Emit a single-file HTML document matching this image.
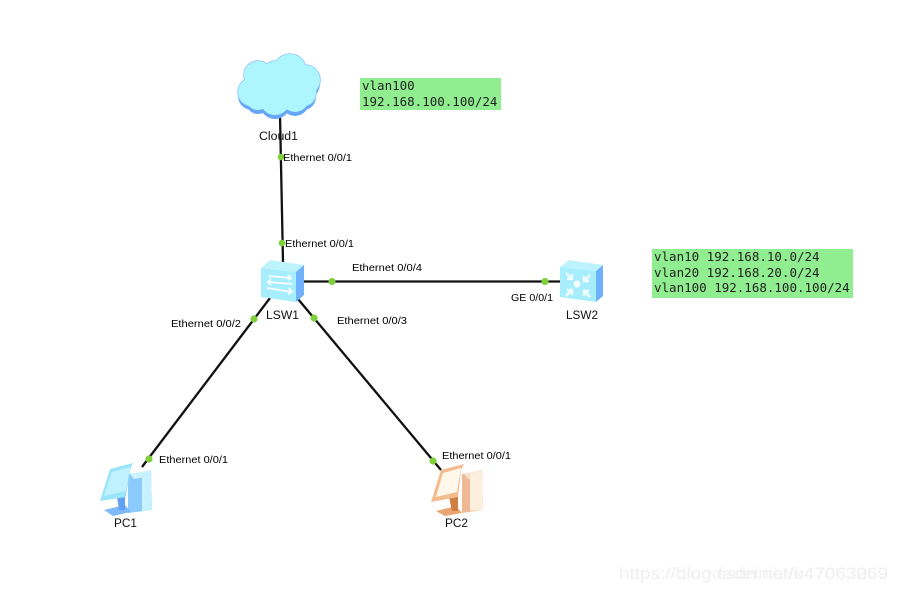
<!DOCTYPE html>
<html><head><meta charset="utf-8"><style>
html,body{margin:0;padding:0;background:#fff}
svg{display:block}
.l{font-family:"Liberation Sans",Arial,sans-serif;font-size:10.5px;fill:#000}
.n{font-family:"Liberation Sans",Arial,sans-serif;font-size:11.5px;fill:#111}
.m{font-family:"DejaVu Sans Mono","Liberation Mono",monospace;font-size:12.5px;fill:#222}
.w{font-family:"Liberation Sans",Arial,sans-serif;font-size:17px;fill:#f0f0f0}
</style></head><body>
<svg width="899" height="591" viewBox="0 0 899 591" xmlns="http://www.w3.org/2000/svg">
<rect width="899" height="591" fill="#fff"/>
<g stroke="#111" stroke-width="2.300" fill="none">
<line x1="280" y1="115" x2="283" y2="262"/>
<line x1="303" y1="281.500" x2="560" y2="281.500"/>
<line x1="270" y1="298" x2="142" y2="467"/>
<line x1="298" y1="299" x2="441" y2="470"/>
</g>
<!-- Cloud -->
<g fill="#66a6f5" transform="translate(0,4)">
<circle cx="252" cy="92" r="14"/><circle cx="258" cy="75" r="14"/><circle cx="275" cy="72" r="11"/><circle cx="290" cy="70" r="16"/><circle cx="305" cy="80" r="15"/><circle cx="303" cy="93" r="13"/><circle cx="275" cy="100" r="15"/><circle cx="295" cy="98" r="14"/><circle cx="258" cy="98" r="12"/><circle cx="280" cy="88" r="22"/>
</g>
<g fill="#90c4fa">
<circle cx="252" cy="92" r="14.800"/><circle cx="258" cy="75" r="14.800"/><circle cx="275" cy="72" r="11.800"/><circle cx="290" cy="70" r="16.800"/><circle cx="305" cy="80" r="15.800"/><circle cx="303" cy="93" r="13.800"/>
</g>
<g fill="#aef6ff">
<circle cx="252" cy="92" r="14"/><circle cx="258" cy="75" r="14"/><circle cx="275" cy="72" r="11"/><circle cx="290" cy="70" r="16"/><circle cx="305" cy="80" r="15"/><circle cx="303" cy="93" r="13"/><circle cx="275" cy="100" r="15"/><circle cx="295" cy="98" r="14"/><circle cx="258" cy="98" r="12"/><circle cx="280" cy="88" r="22"/>
</g>
<!-- LSW1 -->
<g>
<polygon points="261,268 270,260 304,265 296,272" fill="#bdf3fd"/>
<polygon points="296,272 304,265 304,295 296,302" fill="#6fb1fb"/>
<polygon points="261,268 296,272 296,302 261,297" fill="#a6eefb"/>
<g stroke="#f2fcff" stroke-width="2" fill="none">
<path d="M269 276l22 2m-3-3l3 3-3 2"/>
<path d="M292 284l-24-2m3-3l-3 3 3 3"/>
<path d="M267 288l25 4m-3-4l3 4-4 2"/>
</g>
</g>
<!-- LSW2 -->
<g>
<polygon points="560,267 569,260 603,265 596,271" fill="#bdf3fd"/>
<polygon points="596,271 603,265 603,296 596,302" fill="#6fb1fb"/>
<polygon points="560,267 596,271 596,302 560,297" fill="#a6eefb"/>
<circle cx="577" cy="284" r="3.500" fill="#f4fdff"/>
<g stroke="#f2fcff" stroke-width="2.400" fill="none">
<path d="M566 273l6 6m0-5v5h-5"/>
<path d="M590 275l-6 6m0-5v5h5"/>
<path d="M566 296l6-6m-5 0h5v5"/>
<path d="M590 297l-6-6m5 0h-5v5"/>
</g>
</g>
<!-- PC1 -->
<g>
<polygon points="128,474 151,471 152,510 128,513" fill="#8ccbfd"/>
<polygon points="130,474 151,470 152,476 134,479" fill="#cdf4fe"/>
<polygon points="142,473 151,471 152,510 142,511" fill="#c6f2fe"/>
<polygon points="104,510 125,505 131,512 113,516" fill="#7db9fb"/>
<polygon points="117,497 125,497 125,510 119,510" fill="#62a2f2"/>
<polygon points="110,469 133,463 130,470 126,497 100,501" fill="#9be5fb"/>
<polygon points="112,472 130,467 126,491 104,496" fill="#bff2fc"/>
</g>
<!-- PC2 -->
<g>
<polygon points="462,474 482,471 483,510 462,513" fill="#efba93"/>
<polygon points="464,474 482,470 483,476 468,479" fill="#f9dfc9"/>
<polygon points="470,473 482,471 483,510 470,511" fill="#fdeedd"/>
<polygon points="436,511 456,506 462,513 445,516" fill="#e9a673"/>
<polygon points="449,497 458,497 458,511 452,511" fill="#cf8040"/>
<polygon points="441,470 464,464 461,470 458,497 431,502" fill="#f4bc8e"/>
<polygon points="443,473 461,468 457,492 436,497" fill="#fff7ea"/>
</g>
<!-- Dots -->
<g fill="#7ed13b">
<circle cx="281" cy="157" r="3.300"/>
<circle cx="282" cy="243" r="3.300"/>
<circle cx="332" cy="281.500" r="3.600"/>
<circle cx="545" cy="281.500" r="3.600"/>
<circle cx="254" cy="319" r="3.600"/>
<circle cx="314" cy="318" r="3.600"/>
<circle cx="149" cy="459" r="3.600"/>
<circle cx="433" cy="461" r="3.600"/>
</g>
<!-- Green boxes -->
<rect x="360" y="78" width="141" height="32" fill="#90ee90"/>
<rect x="652" y="249" width="201" height="49" fill="#90ee90"/>
<text class="m" x="362" y="90">vlan100</text>
<text class="m" x="362" y="106">192.168.100.100/24</text>
<text class="m" x="654" y="261">vlan10 192.168.10.0/24</text>
<text class="m" x="654" y="277">vlan20 192.168.20.0/24</text>
<text class="m" x="654" y="292">vlan100 192.168.100.100/24</text>
<!-- Labels -->
<text class="l" x="283" y="161" textLength="69" lengthAdjust="spacingAndGlyphs">Ethernet 0/0/1</text>
<text class="l" x="285" y="247" textLength="69" lengthAdjust="spacingAndGlyphs">Ethernet 0/0/1</text>
<text class="l" x="352" y="271" textLength="70" lengthAdjust="spacingAndGlyphs">Ethernet 0/0/4</text>
<text class="l" x="171" y="327" textLength="70" lengthAdjust="spacingAndGlyphs">Ethernet 0/0/2</text>
<text class="l" x="337" y="324" textLength="70" lengthAdjust="spacingAndGlyphs">Ethernet 0/0/3</text>
<text class="l" x="159" y="463" textLength="69" lengthAdjust="spacingAndGlyphs">Ethernet 0/0/1</text>
<text class="l" x="442" y="459" textLength="69" lengthAdjust="spacingAndGlyphs">Ethernet 0/0/1</text>
<text class="l" x="511" y="301" textLength="42" lengthAdjust="spacingAndGlyphs">GE 0/0/1</text>
<text class="n" x="259" y="140" textLength="39" lengthAdjust="spacingAndGlyphs">Cloud1</text>
<text class="n" x="266" y="319" textLength="33" lengthAdjust="spacingAndGlyphs">LSW1</text>
<text class="n" x="566" y="319" textLength="32" lengthAdjust="spacingAndGlyphs">LSW2</text>
<text class="n" x="114" y="527" textLength="23" lengthAdjust="spacingAndGlyphs">PC1</text>
<text class="n" x="445" y="527" textLength="23" lengthAdjust="spacingAndGlyphs">PC2</text>
<!-- Watermark -->
<text class="w" x="619" y="579" textLength="269" lengthAdjust="spacingAndGlyphs">https://blog.csdn.net/u47063069</text>
<text class="w" x="619" y="579" textLength="269" lengthAdjust="spacingAndGlyphs" opacity=".8">https://dingdadeiniat/k47063269</text>
</svg>
</body></html>
